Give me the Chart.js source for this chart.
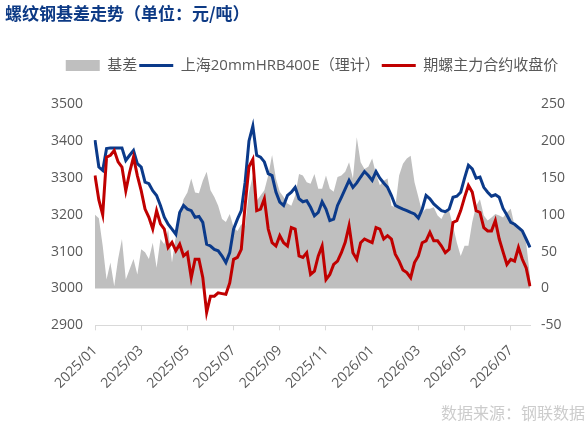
<!DOCTYPE html>
<html>
<head>
<meta charset="utf-8">
<script src="https://cdn.jsdelivr.net/npm/chart.js@4.4.1/dist/chart.umd.min.js"></script>
<style>
  html, body { margin: 0; padding: 0; background: #ffffff; }
  #wrap { position: relative; width: 585px; height: 433px; }
</style>
</head>
<body>
<div id="wrap"><canvas id="c" width="585" height="433"></canvas></div>
<script>
const chartTitle = '螺纹钢基差走势（单位：元/吨）';
const sourceNote = '数据来源：钢联数据';
const seriesNames = ['基差', '上海20mmHRB400E（理计）', '期螺主力合约收盘价'];

const months = ['2025/01','2025/02','2025/03','2025/04','2025/05','2025/06','2025/07','2025/08','2025/09','2025/10',
                '2025/11','2025/12','2026/01','2026/02','2026/03','2026/04','2026/05','2026/06','2026/07'];
const days = ['01','06','11','16','21','26'];

// 基差 (right axis)
const basis = [
  100, 95, 58, 12, 35, 3, 40, 67, 12, 26,
  40, 19, 53, 49, 40, 62, 28, 67, 60, 80,
  35, 71, 99, 121, 130, 149, 130, 129, 146, 158,
  133, 124, 112, 94, 90, 101, 83, 78, 87, 85,
  130, 153, 119, 126, 133, 153, 181, 149, 131, 124,
  115, 112, 126, 155, 153, 144, 142, 155, 135, 135,
  153, 135, 131, 151, 153, 158, 171, 149, 205, 171,
  162, 165, 176, 155, 140, 146, 149, 112, 110, 153,
  169, 176, 180, 144, 124, 103, 108, 108, 110, 99,
  94, 105, 105, 85, 62, 44, 58, 58, 90, 112,
  121, 99, 92, 96, 101, 99, 96, 103, 108, 85,
  85, 81, 62, 17
];

// 上海20mmHRB400E（理计） (left axis)
const spotPrice = [
  3402, 3329, 3320, 3379, 3381, 3381, 3381, 3381, 3347, 3361,
  3374, 3338, 3329, 3288, 3284, 3265, 3252, 3225, 3193, 3174,
  3161, 3147, 3206, 3225, 3215, 3211, 3193, 3195, 3179, 3120,
  3115, 3106, 3102, 3088, 3070, 3097, 3161, 3188, 3211, 3288,
  3400, 3440, 3361, 3356, 3343, 3311, 3306, 3261, 3234, 3225,
  3252, 3261, 3274, 3243, 3235, 3238, 3220, 3197, 3206, 3235,
  3215, 3184, 3188, 3225, 3247, 3270, 3293, 3274, 3286, 3302,
  3317, 3306, 3293, 3317, 3299, 3286, 3274, 3252, 3225, 3220,
  3215, 3211, 3206, 3202, 3191, 3215, 3252, 3243, 3229, 3220,
  3211, 3208, 3215, 3247, 3250, 3261, 3299, 3334, 3324, 3299,
  3302, 3274, 3261, 3250, 3254, 3247, 3217, 3199, 3179, 3174,
  3165, 3156, 3134, 3111
];

// 期螺主力合约收盘价 (left axis)
const futuresPrice = [
  3306, 3240, 3200, 3356, 3361, 3374, 3343, 3329, 3265, 3315,
  3356, 3306, 3265, 3215, 3193, 3161, 3211, 3175, 3161, 3111,
  3125, 3102, 3120, 3088, 3097, 3029, 3079, 3079, 3030, 2935,
  2979, 2979, 2988, 2986, 2984, 3015, 3079, 3084, 3106, 3225,
  3330, 3350, 3211, 3215, 3243, 3161, 3124, 3115, 3143, 3124,
  3115, 3165, 3161, 3088, 3084, 3097, 3038, 3047, 3088, 3115,
  3024, 3038, 3065, 3074, 3097, 3125, 3170, 3097, 3079, 3124,
  3134, 3129, 3124, 3165, 3161, 3134, 3143, 3134, 3093, 3074,
  3050, 3043, 3029, 3070, 3088, 3124, 3129, 3152, 3129, 3129,
  3115, 3097, 3106, 3179, 3184, 3211, 3247, 3279, 3261, 3211,
  3206, 3165, 3156, 3156, 3184, 3134, 3099, 3065, 3079, 3074,
  3111, 3079, 3056, 3006
];

const leftTicks = [2900, 3000, 3100, 3200, 3300, 3400, 3500];
const rightTicks = [-50, 0, 50, 100, 150, 200, 250];

const categories = [];
months.forEach(m => days.forEach(d => categories.push(m + '/' + d)));

const TICK_EVERY = 12;
const FONT = "'Open Sans', 'Noto Sans CJK SC', sans-serif";
const GRAY = '#bfbfbf', BLUE = '#0b3a8a', RED = '#c00000', TEXT = '#595959';

const headline = {
  id: 'headline',
  beforeLayout(chart) {
    const lg = chart.legend;
    if (lg && !lg.__spaced) {
      const fit = lg.fit;
      lg.fit = function () { fit.call(this); this.height += 21; };
      lg.__spaced = true;
    }
  },
  afterDraw(chart) {
    const c = chart.ctx;
    c.save();
    c.font = "bold 17px 'Noto Sans CJK SC', sans-serif";
    c.fillStyle = '#0d3a85';
    c.textBaseline = 'middle';
    c.textAlign = 'left';
    c.fillText(chartTitle, 5, 14);
    c.restore();
  }
};

new Chart(document.getElementById('c'), {
  type: 'line',
  data: {
    labels: categories,
    datasets: [
      {
        label: seriesNames[0], data: basis, yAxisID: 'y1', order: 3,
        fill: 'origin', backgroundColor: GRAY, borderColor: GRAY, borderWidth: 0,
        pointRadius: 0, tension: 0, pointStyle: 'rect'
      },
      {
        label: seriesNames[1], data: spotPrice, yAxisID: 'y', order: 2,
        fill: false, borderColor: BLUE, backgroundColor: BLUE, borderWidth: 3,
        pointRadius: 0, tension: 0, pointStyle: 'line'
      },
      {
        label: seriesNames[2], data: futuresPrice, yAxisID: 'y', order: 1,
        fill: false, borderColor: RED, backgroundColor: RED, borderWidth: 3,
        pointRadius: 0, tension: 0, pointStyle: 'line'
      }
    ]
  },
  options: {
    responsive: false,
    animation: false,
    devicePixelRatio: 1,
    layout: { padding: { top: 56, left: 39, right: 0, bottom: 0 } },
    plugins: {
      title: { display: false },
      tooltip: { enabled: false },
      legend: {
        display: true, position: 'top',
        labels: {
          usePointStyle: true, pointStyleWidth: 34, boxHeight: 11, padding: 2,
          color: TEXT, font: { family: FONT, size: 15 },
          sort: (a, b) => a.datasetIndex - b.datasetIndex
        }
      },
      subtitle: {
        display: true, position: 'bottom', align: 'end', text: sourceNote,
        color: '#cccccc', font: { family: "'Noto Sans CJK SC', sans-serif", size: 16, weight: 'normal' },
        padding: { top: 0, bottom: 10 }
      }
    },
    scales: {
      x: {
        type: 'category',
        offset: false,
        grid: {
          display: true, drawOnChartArea: false, drawTicks: true, tickLength: 5,
          color: ctx => (ctx.index % TICK_EVERY === 0 ? '#d9d9d9' : 'rgba(0,0,0,0)'),
          tickColor: ctx => (ctx.index % TICK_EVERY === 0 ? '#d9d9d9' : 'rgba(0,0,0,0)')
        },
        border: { display: true, color: '#d9d9d9', width: 1 },
        ticks: {
          autoSkip: false, minRotation: 45, maxRotation: 45, padding: 12,
          color: TEXT, font: { family: FONT, size: 14 },
          callback: (v, i) => (i % TICK_EVERY === 0 ? categories[i].slice(0, 7) : '')
        }
      },
      y: {
        position: 'left', min: 2900, max: 3500,
        afterBuildTicks: s => { s.ticks = leftTicks.map(v => ({ value: v })); },
        afterFit: s => { s.width = 56; },
        grid: { display: false, drawTicks: false }, border: { display: false },
        ticks: { color: TEXT, font: { family: FONT, size: 14 }, padding: 12, callback: v => String(v) }
      },
      y1: {
        position: 'right', min: -50, max: 250,
        afterBuildTicks: s => { s.ticks = rightTicks.map(v => ({ value: v })); },
        afterFit: s => { s.width = 55; },
        grid: { display: false, drawTicks: false }, border: { display: false },
        ticks: { color: TEXT, font: { family: FONT, size: 14 }, padding: 11, callback: v => String(v) }
      }
    }
  },
  plugins: [headline]
});
</script>
</body>
</html>
